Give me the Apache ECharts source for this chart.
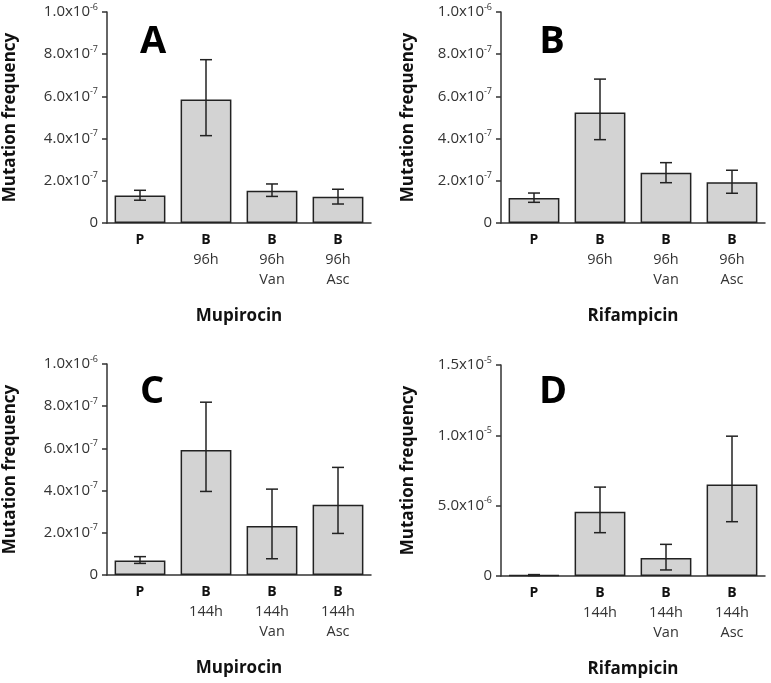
<!DOCTYPE html>
<html><head><meta charset="utf-8">
<script src="https://cdn.jsdelivr.net/npm/echarts@6/dist/echarts.min.js"></script>
<style>html,body{margin:0;padding:0;background:#fff}#c{width:771px;height:683px}</style>
</head><body><div id="c"></div>
<script>
// ---- data ----
const cats96 = ['P', 'B\n96h', 'B\n96h\nVan', 'B\n96h\nAsc'];
const cats144 = ['P', 'B\n144h', 'B\n144h\nVan', 'B\n144h\nAsc'];

const valA = [1.30e-7, 5.85e-7, 1.53e-7, 1.24e-7];
const lowA = [1.08e-7, 4.14e-7, 1.26e-7, 0.90e-7];
const highA = [1.55e-7, 7.74e-7, 1.85e-7, 1.60e-7];

const valB = [1.18e-7, 5.24e-7, 2.38e-7, 1.93e-7];
const lowB = [0.98e-7, 3.95e-7, 1.91e-7, 1.41e-7];
const highB = [1.42e-7, 6.82e-7, 2.86e-7, 2.50e-7];

const valC = [0.69e-7, 5.93e-7, 2.32e-7, 3.33e-7];
const lowC = [0.55e-7, 3.96e-7, 0.77e-7, 1.97e-7];
const highC = [0.87e-7, 8.19e-7, 4.07e-7, 5.10e-7];

const valD = [0.06e-6, 4.57e-6, 1.28e-6, 6.51e-6];
const lowD = [0.03e-6, 3.08e-6, 0.43e-6, 3.86e-6];
const highD = [0.10e-6, 6.32e-6, 2.25e-6, 9.94e-6];

const ticksSmall = ['0', '2.0x10^-7', '4.0x10^-7', '6.0x10^-7', '8.0x10^-7', '1.0x10^-6'];
const ticksD = ['0', '5.0x10^-6', '1.0x10^-5', '1.5x10^-5'];

const panelLetters = ['A', 'B', 'C', 'D'];
const drugNames = ['Mupirocin', 'Rifampicin', 'Mupirocin', 'Rifampicin'];
const yTitle = 'Mutation frequency';

// ---- layout ----
const FONT = '"Open Sans"';
const grids = [
  {left: 107, top: 12, width: 264, height: 211},
  {left: 501, top: 12, width: 264, height: 211},
  {left: 107, top: 364, width: 264, height: 211},
  {left: 501, top: 365, width: 264, height: 211}
];
const letterPos = [[153, 42], [552, 42], [152, 392], [553, 392]];
const panels = [
  {cats: cats96, val: valA, low: lowA, high: highA, ticks: ticksSmall, max: 1e-6, interval: 2e-7, nameGap: 88},
  {cats: cats96, val: valB, low: lowB, high: highB, ticks: ticksSmall, max: 1e-6, interval: 2e-7, nameGap: 84},
  {cats: cats144, val: valC, low: lowC, high: highC, ticks: ticksSmall, max: 1e-6, interval: 2e-7, nameGap: 88},
  {cats: cats144, val: valD, low: lowD, high: highD, ticks: ticksD, max: 1.5e-5, interval: 5e-6, nameGap: 84}
];

function yFmt(labels) {
  return function (v, i) {
    const s = labels[i] || '';
    if (s.indexOf('^') >= 0) {
      const p = s.split('^');
      return '{m|' + p[0] + '}{e|' + p[1] + '}';
    }
    return '{m|' + s + '}';
  };
}
function xFmt(v) {
  const lines = v.split('\n');
  return lines.map((l, i) => i === 0 ? '{b|' + l + '}' : '{n|' + l + '}').join('\n');
}

const axisCol = '#333';
const option = {
  animation: false,
  backgroundColor: '#fff',
  grid: grids.map(g => Object.assign({containLabel: false}, g)),
  xAxis: panels.map((p, k) => ({
    type: 'category', gridIndex: k, data: p.cats,
    axisLine: {lineStyle: {color: axisCol, width: 1.5}},
    axisTick: {show: false},
    axisLabel: {
      interval: 0, margin: 7, formatter: xFmt,
      rich: {
        b: {fontFamily: FONT, fontSize: 14, fontWeight: 'bold', color: '#111', lineHeight: 20},
        n: {fontFamily: FONT, fontSize: 14.5, color: '#333', lineHeight: 20}
      }
    },
    name: drugNames[k], nameLocation: 'middle', nameGap: 85,
    nameTextStyle: {fontFamily: FONT, fontSize: 17, fontWeight: 'bold', color: '#111'}
  })),
  yAxis: panels.map((p, k) => ({
    type: 'value', gridIndex: k, min: 0, max: p.max, interval: p.interval,
    splitLine: {show: false},
    axisLine: {show: true, lineStyle: {color: axisCol, width: 1.5}},
    axisTick: {show: true, length: 5, lineStyle: {color: axisCol, width: 1.5}},
    axisLabel: {
      margin: 9, formatter: yFmt(p.ticks),
      rich: {
        m: {fontFamily: FONT, fontSize: 15, color: '#333'},
        e: {fontFamily: FONT, fontSize: 9, color: '#333', padding: [0, 0, 10, 0]}
      }
    },
    name: yTitle, nameLocation: 'middle', nameGap: p.nameGap, nameRotate: 90,
    nameTextStyle: {fontFamily: FONT, fontSize: 17, fontWeight: 'bold', color: '#111'}
  })),
  graphic: panelLetters.map((t, k) => ({
    type: 'text',
    x: letterPos[k][0], y: letterPos[k][1],
    style: {text: t, font: 'bold 38px ' + FONT, fill: '#000', textAlign: 'center', textVerticalAlign: 'middle'}
  })),
  series: []
};

panels.forEach((p, k) => {
  option.series.push({
    type: 'bar', xAxisIndex: k, yAxisIndex: k, data: p.val,
    barWidth: '77%',
    itemStyle: {color: '#d3d3d3', borderColor: '#222', borderWidth: 1.5}
  });
  option.series.push({
    type: 'custom', xAxisIndex: k, yAxisIndex: k,
    data: p.val.map((v, i) => [i, p.low[i], p.high[i]]),
    z: 5,
    renderItem: function (params, api) {
      const x = api.value(0);
      const lo = api.coord([x, api.value(1)]);
      const hi = api.coord([x, api.value(2)]);
      const cap = 6;
      const st = {stroke: '#222', lineWidth: 1.5, fill: null};
      return {
        type: 'group',
        children: [
          {type: 'line', shape: {x1: lo[0], y1: lo[1], x2: hi[0], y2: hi[1]}, style: st},
          {type: 'line', shape: {x1: lo[0] - cap, y1: lo[1], x2: lo[0] + cap, y2: lo[1]}, style: st},
          {type: 'line', shape: {x1: hi[0] - cap, y1: hi[1], x2: hi[0] + cap, y2: hi[1]}, style: st}
        ]
      };
    }
  });
});

const chart = echarts.init(document.getElementById('c'), null, {renderer: 'canvas'});
chart.setOption(option);
</script>
</body></html>
